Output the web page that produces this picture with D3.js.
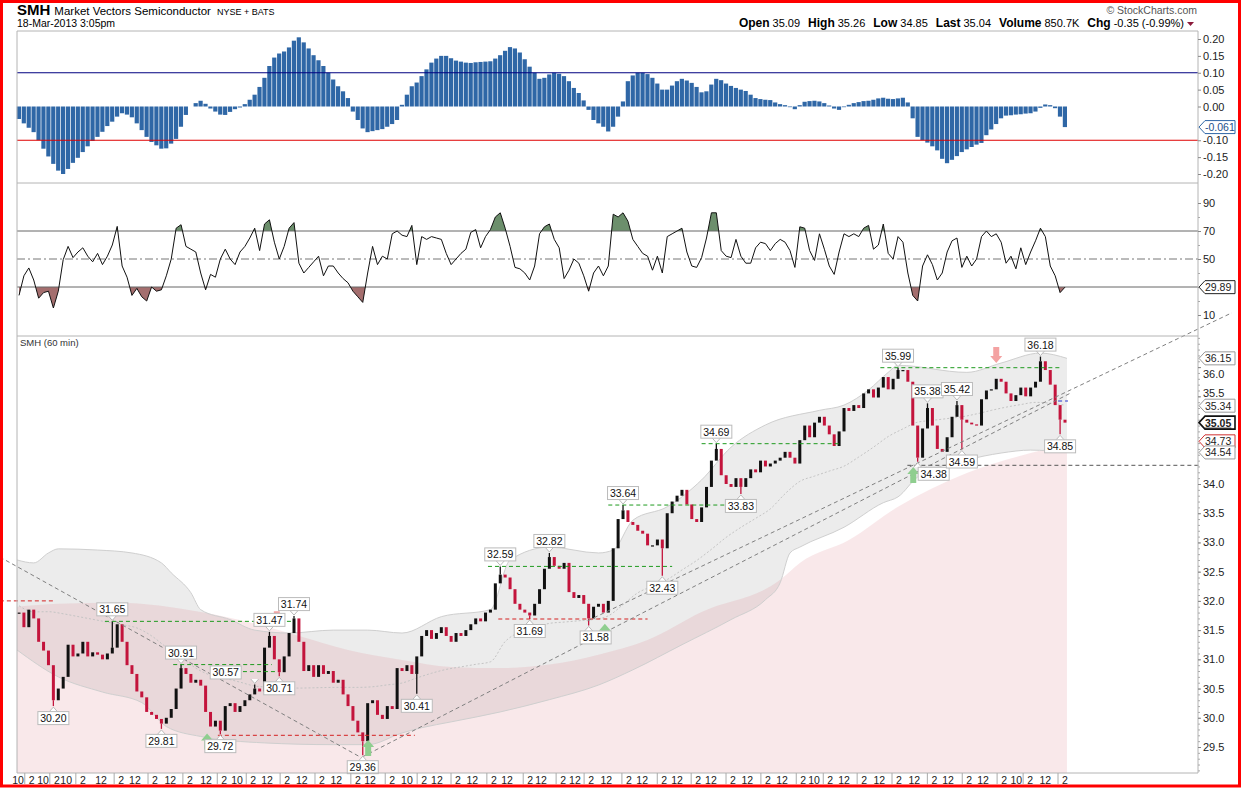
<!DOCTYPE html>
<meta charset="utf-8">
<style>
body { margin: 0; background: #fff; }
svg { font-family: "Liberation Sans", Arial, sans-serif; }
.tick text { font-size: 11px; fill: #222; }
.frame { fill: none; stroke: #b4b4b4; }
.lbl text { font-size: 10.5px; fill: #111; }
</style>
<svg width="1243" height="788"></svg>
<script src="https://d3js.org/d3.v7.min.js"></script>
<script>

// hourly closes, one per bar (60 min)
var closes = [
  31.80,31.55,31.85,31.70,31.30,31.15,30.90,30.30,30.50,30.70,
  31.25,31.05,31.10,31.30,31.05,31.12,31.08,31.00,31.10,31.20,
  31.60,31.30,30.90,30.75,30.45,30.35,30.10,30.05,29.98,29.90,
  30.00,30.15,30.50,30.85,30.75,30.60,30.65,30.55,30.10,29.85,
  29.95,29.78,30.20,30.25,30.10,30.20,30.30,30.40,30.50,30.45,
  31.20,31.40,31.00,30.78,31.05,31.45,31.70,31.30,30.80,30.90,
  30.70,30.90,30.75,30.80,30.60,30.65,30.40,30.20,29.95,29.75,
  29.60,30.25,30.30,30.05,29.98,30.20,30.15,30.85,30.80,30.90,
  30.75,31.05,31.40,31.50,31.35,31.45,31.55,31.40,31.30,31.45,
  31.40,31.50,31.60,31.70,31.65,31.80,31.85,32.30,32.45,32.40,
  32.20,31.95,31.85,31.80,31.75,31.95,32.20,32.55,32.75,32.60,
  32.55,32.65,32.15,32.05,32.10,31.95,31.70,31.90,31.95,31.80,
  32.00,32.90,33.40,33.55,33.35,33.30,33.20,33.15,32.95,32.95,
  33.05,32.90,33.50,33.70,33.80,33.90,33.65,33.40,33.35,33.60,
  33.95,34.40,34.60,34.15,34.00,33.95,34.10,33.95,34.10,34.25,
  34.20,34.40,34.30,34.35,34.40,34.45,34.55,34.45,34.35,34.75,
  35.00,34.80,35.05,35.15,35.00,34.85,34.65,34.90,35.30,35.25,
  35.35,35.30,35.55,35.62,35.48,35.65,35.83,35.62,35.80,35.95,
  35.95,35.75,35.00,34.45,34.95,35.30,35.00,34.60,34.55,34.80,
  35.15,35.35,35.10,35.05,35.02,35.00,35.45,35.60,35.62,35.80,
  35.75,35.55,35.42,35.52,35.65,35.50,35.65,35.75,36.10,35.95,
  35.70,35.35,35.10,35.05
];

var macdHist = [
  -0.037,-0.05,-0.063,-0.076,-0.10,-0.125,-0.148,-0.17,-0.19,-0.20,
  -0.185,-0.167,-0.152,-0.135,-0.118,-0.102,-0.09,-0.075,-0.058,-0.045,
  -0.03,-0.02,-0.024,-0.032,-0.05,-0.07,-0.09,-0.105,-0.115,-0.125,
  -0.124,-0.11,-0.096,-0.06,-0.025,0,0.01,0.017,0.008,-0.006,
  -0.015,-0.024,-0.025,-0.016,-0.008,-0.003,0.007,0.02,0.035,0.058,
  0.085,0.12,0.145,0.157,0.163,0.175,0.195,0.205,0.19,0.172,
  0.152,0.137,0.12,0.10,0.08,0.06,0.045,0.025,-0.015,-0.04,
  -0.065,-0.076,-0.073,-0.07,-0.067,-0.06,-0.052,-0.04,0.005,0.035,
  0.06,0.071,0.09,0.11,0.13,0.142,0.15,0.15,0.143,0.136,
  0.133,0.13,0.129,0.131,0.132,0.133,0.134,0.142,0.152,0.165,
  0.176,0.172,0.16,0.14,0.118,0.10,0.082,0.085,0.095,0.10,
  0.097,0.09,0.075,0.055,0.04,0.018,-0.01,-0.04,-0.05,-0.06,
  -0.074,-0.06,-0.03,0.015,0.075,0.092,0.10,0.10,0.096,0.085,
  0.068,0.05,0.05,0.062,0.075,0.082,0.077,0.07,0.058,0.042,
  0.045,0.065,0.082,0.078,0.068,0.061,0.055,0.05,0.046,0.035,
  0.025,0.022,0.02,0.019,0.012,0.007,0.004,-0.002,-0.008,0.004,
  0.014,0.016,0.017,0.015,0.01,0.003,-0.006,-0.01,-0.002,0.005,
  0.01,0.013,0.016,0.017,0.02,0.024,0.026,0.023,0.022,0.024,
  0.026,0.012,-0.035,-0.09,-0.10,-0.107,-0.118,-0.13,-0.155,-0.168,
  -0.158,-0.147,-0.135,-0.127,-0.12,-0.113,-0.108,-0.085,-0.068,-0.052,
  -0.035,-0.027,-0.026,-0.024,-0.023,-0.021,-0.02,-0.015,-0.004,0.006,
  0.004,-0.005,-0.03,-0.061
];

var rsi = [
  24,38,43.6,35,22,26,27,15,27,49.5,
  59,51,55,58,52,48,54,46,52,60,
  73.3,45,37,24,29,23,20,30,27,28,
  38,50,72,74.5,59,57,55,40,28,39,
  37,50,57,50,46,55,59,65,72,56,
  75,78,62,50,59,72,76,47,40,44,
  48,52,38,45,45,40,36,33,27,23,
  19,40,59,46,52,50,68,70,67,66,
  74,46,66,64,66,65,64,54,46,50,
  54,57,69,71,58,66,71,80,83,72,
  59,44,43,40,35,45,68,73,75,64,
  58,36,42,50,47,38,27,40,45,38,
  45,82,80,83,77,64,59,54,52,42,
  52,40,66,68,70,72,55,45,44,51,
  65,83,83,56,52,51,64,52,47,47,
  58,62,61,56,61,64,62,56,44,73,
  72,56,49,68,57,45,39,55,68,66,
  68,66,72,74,57,60,75,54,50,66,
  62,40,24,20,45,53,46,35,40,55,
  63,65,44,52,45,50,66,70,66,68,
  62,47,52,43,58,46,55,63,72,66,
  45,38,26,29.89
];

// bollinger bands, sampled at bar positions
var bbUpIdx = [-0.4,3,6,8,16,23,29,31,35,37,43,48,55,64,71,78,86,96,100,108,118,121,125,132,139,145,152,163,168,173,177,179,193,200,208,213.4];
var bbUpper = [32.70,32.65,32.82,32.89,32.87,32.82,32.65,32.48,32.14,31.85,31.68,31.50,31.45,31.50,31.50,31.45,31.73,31.85,32.70,32.92,32.82,32.87,33.38,33.61,34.07,34.63,35.01,35.26,35.35,35.61,35.91,36.03,35.91,36.07,36.24,36.15];
var bbLoIdx = [-0.4,8,17,25,30,37,50,64,71,78,82,88,98,108,118,125,135,145,152,155,157,159,168,176,179,183,193,200,206,213.4];
var bbLower = [31.16,30.70,30.44,30.26,29.85,29.68,29.57,29.54,29.54,29.74,29.83,29.93,30.10,30.31,30.56,30.82,31.25,31.68,32.02,32.31,32.82,32.92,33.26,33.68,33.78,34.12,34.41,34.53,34.58,34.54];

// long moving average (pink zone)
var maIdx = [-0.4,8,20,37,49,57,67,78,88,98,108,118,128,139,155,159,169,179,193,206,213.4];
var maLine = [31.90,31.95,31.97,31.81,31.59,31.40,31.16,30.99,30.87,30.85,30.91,31.08,31.33,31.81,32.36,32.65,33.04,33.61,34.19,34.53,34.68];

// labelled swing highs / lows
var labelBars = [7,19,29,33,41,48,51,53,56,70,81,98,104,108,116,123,131,142,147,179,183,185,191,192,208,212];
var labelVals = [30.20,31.65,29.81,30.91,29.72,30.57,31.47,30.71,31.74,29.36,30.41,32.59,31.69,32.82,31.58,33.64,32.43,34.69,33.83,35.99,34.38,35.38,35.42,34.59,36.18,34.85];
var labelSide = ["L","H","L","H","L","H","H","L","H","L","L","H","L","H","L","H","L","H","L","H","L","H","H","L","H","L"];

// annotation arrows
var arrowBars = [38.3,71.1,119.3,182.1,52.5,199];
var arrowVals = [29.73,29.62,31.61,34.29,31.55,36.07];
var arrowDir = ["up","up","up","up","down","down"];

// horizontal level lines
var levelFrom = [17.5,31.4,45.6,95.5,120,139,175.4,-3.9,40.5,97.6,180.9,211.6];
var levelTo = [55.8,51.5,52.7,133,145.4,167,212.4,7.3,80.6,128,240.5,213.6];
var levelVal = [31.65,30.91,30.79,32.59,33.64,34.69,35.99,32.00,29.70,31.69,34.32,35.42];
var levelKind = ["res","res","res","res","res","res","res","sup","sup","sup","flat","blue"];

// trend lines
var trendBar1 = [-3.9,115.8,69.9];
var trendVal1 = [32.75,31.66,29.33];
var trendBar2 = [73.1,247,214];
var trendVal2 = [29.16,36.93,35.55];

// right-edge value tags
var priceTags = [36.15,35.34,35.05,34.73,34.54];
var macdLast = -0.061;
var rsiLast = 29.89;

// tick labels (those hidden under the value tags are left out)
var priceTicks = [29.5,30.0,30.5,31.0,31.5,32.0,32.5,33.0,33.5,34.0,35.5,36.0];
var macdTicks = [0.20,0.15,0.10,0.05,0.00,-0.10,-0.15,-0.20];
var rsiTicks = [90,70,50,10];

var xTickBars = [-0.2,2.6,4.9,7.7,9.6,13.0,16.7,20.8,23.6,27.7,30.8,34.8,38.1,41.8,44.4,47.7,50.5,54.6,57.6,61.7,64.6,69.0,71.5,76.0,79.0,82.5,85.1,89.4,92.3,96.7,99.4,104.1,106.3,110.8,113.2,116.5,119.6,124.2,126.9,131.4,134.0,138.3,140.9,145.4,148.3,152.5,155.4,159.7,161.9,165.2,168.0,172.1,175.2,179.2,182.3,186.4,189.2,193.5,196.3,200.6,203.1,205.9,209.0,213.0];
var xTickText = ["10","2","10","2","10","2","12","2","12","2","12","2","12","2","10","2","12","2","12","2","12","2","12","2","10","2","12","2","12","2","12","2","12","2","12","2","12","2","12","2","12","2","12","2","12","2","12","2","10","2","12","2","12","2","12","2","12","2","12","2","10","2","12","2"];

var quoteNames = ["Open","High","Low","Last","Volume","Chg"];
var quoteVals = ["35.09","35.26","34.85","35.04","850.7K","-0.35 (-0.99%)"];

var svg = d3.select("svg");
var L = 17, R = 1198;

var x = d3.scaleLinear().domain([0, 213]).range([19, 1065]);
var yM = d3.scaleLinear().domain([-0.2, 0.2]).range([174, 39]);
var yR = d3.scaleLinear().domain([10, 90]).range([315, 203]);
var yP = d3.scaleLinear().domain([29.5, 34]).range([747, 484]);

// ---------- header ----------
var symT = svg.append("text").attr("x", 17).attr("y", 15).style("font-size", "15px").style("font-weight", "bold").text("SMH");
var nameX = 17 + symT.node().getComputedTextLength() + 4;
var nameT = svg.append("text").attr("x", nameX).attr("y", 15).style("font-size", "11.5px").text("Market Vectors Semiconductor");
var nameW = nameT.node().getComputedTextLength();
svg.append("text").attr("x", nameX + nameW + 6).attr("y", 15).style("font-size", "9px").text("NYSE + BATS");
svg.append("text").attr("x", 17).attr("y", 27).style("font-size", "10.5px").text("18-Mar-2013 3:05pm");
svg.append("text").attr("x", 1197).attr("y", 14).attr("text-anchor", "end")
  .style("font-size", "10.5px").style("fill", "#555").text("\u00a9 StockCharts.com");

var head = svg.append("text").attr("x", 1184).attr("y", 27).attr("text-anchor", "end").style("font-size", "11px");
quoteNames.forEach(function(n, i) {
  head.append("tspan").attr("dx", i ? 8 : 0).style("font-weight", "bold").style("font-size", "12px").text(n);
  head.append("tspan").attr("dx", 3).text(quoteVals[i]);
});
svg.append("path").attr("d", "M1187,22h7l-3.5,4z").attr("fill", "#8b1a3a");

// ---------- MACD histogram panel ----------
var gM = svg.append("g");
gM.selectAll("rect").data(macdHist).enter().append("rect")
  .attr("x", function(d, i) { return x(i) - 2.2; })
  .attr("width", 4.2)
  .attr("y", function(d) { return Math.min(yM(d), yM(0)); })
  .attr("height", function(d) { return Math.abs(yM(d) - yM(0)); })
  .attr("fill", "#2f67a6");
gM.append("line").attr("x1", L).attr("x2", R).attr("y1", yM(0.10)).attr("y2", yM(0.10)).attr("stroke", "#000080");
gM.append("line").attr("x1", L).attr("x2", R).attr("y1", yM(-0.10)).attr("y2", yM(-0.10)).attr("stroke", "#e00000");

// ---------- RSI panel ----------
var gR = svg.append("g");
var defs = svg.append("defs");
defs.append("clipPath").attr("id", "ob").append("rect").attr("x", L).attr("y", 183).attr("width", R - L).attr("height", yR(70) - 183);
defs.append("clipPath").attr("id", "os").append("rect").attr("x", L).attr("y", yR(30)).attr("width", R - L).attr("height", 336 - yR(30));

gR.append("path").datum(rsi).attr("clip-path", "url(#ob)").attr("fill", "#6c8f6c")
  .attr("d", d3.area().x(function(d, i) { return x(i); }).y0(yR(70)).y1(function(d) { return yR(d); }));
gR.append("path").datum(rsi).attr("clip-path", "url(#os)").attr("fill", "#a46e6e")
  .attr("d", d3.area().x(function(d, i) { return x(i); }).y0(yR(30)).y1(function(d) { return yR(d); }));
[70, 30].forEach(function(v) {
  gR.append("line").attr("x1", L).attr("x2", R).attr("y1", yR(v)).attr("y2", yR(v)).attr("stroke", "#666");
});
gR.append("line").attr("x1", L).attr("x2", R).attr("y1", yR(50)).attr("y2", yR(50))
  .attr("stroke", "#777").attr("stroke-dasharray", "8,3,2,3");
gR.append("path").datum(rsi).attr("fill", "none").attr("stroke", "#111").attr("stroke-width", 1)
  .attr("d", d3.line().x(function(d, i) { return x(i); }).y(function(d) { return yR(d); }));

// ---------- price panel ----------
var gP = svg.append("g");
gP.append("text").attr("x", 20).attr("y", 346).style("font-size", "9.5px").style("fill", "#333").text("SMH (60 min)");

var upPts = bbUpIdx.map(function(b, i) { return [b, bbUpper[i]]; });
var loPts = bbLoIdx.map(function(b, i) { return [b, bbLower[i]]; });
var upF = d3.line().curve(d3.curveMonotoneX).x(function(d) { return x(d[0]); }).y(function(d) { return yP(d[1]); });

// band fill: upper path forward, lower path back
var bandPath = upF(upPts) + "L" + upF(loPts.slice().reverse()).slice(1) + "Z";
gP.append("path").attr("d", bandPath).attr("fill", "#ececec");

var maPts = maIdx.map(function(b, i) { return [b, maLine[i]]; });
gP.append("path").datum(maPts).attr("fill", "rgba(222,120,130,0.17)")
  .attr("d", d3.area().curve(d3.curveMonotoneX).x(function(d) { return x(d[0]); })
    .y0(773).y1(function(d) { return yP(d[1]); }));

gP.append("path").attr("d", upF(upPts)).attr("fill", "none").attr("stroke", "#cfcfcf");
gP.append("path").attr("d", upF(loPts)).attr("fill", "none").attr("stroke", "#cfcfcf");

// middle band
var midPts = d3.range(0, 214, 3).concat([213]).map(function(i) {
  var u = d3.scaleLinear().domain(bbUpIdx).range(bbUpper)(i);
  var l = d3.scaleLinear().domain(bbLoIdx).range(bbLower)(i);
  return [i, (u + l) / 2];
});
gP.append("path").attr("d", upF(midPts)).attr("fill", "none").attr("stroke", "#c4c4c4").attr("stroke-dasharray", "2,2");

// candles (open = previous close)
var gC = gP.append("g");
closes.forEach(function(c, i) {
  var o = i ? closes[i - 1] : c;
  var top = yP(Math.max(o, c)), bot = yP(Math.min(o, c));
  gC.append("rect").attr("x", x(i) - 1.5).attr("width", 3)
    .attr("y", top).attr("height", Math.max(1.2, bot - top))
    .attr("fill", c >= o ? "#111" : "#c3143c");
});
labelBars.forEach(function(b, i) {
  var c = closes[b], o = b ? closes[b - 1] : c;
  var from = labelSide[i] === "H" ? Math.max(o, c) : Math.min(o, c);
  gC.append("line").attr("x1", x(b)).attr("x2", x(b)).attr("y1", yP(from)).attr("y2", yP(labelVals[i]))
    .attr("stroke", c >= o ? "#111" : "#c3143c").attr("stroke-width", 1.3);
});

// level lines
var levelColor = { res: "#1e9a1e", sup: "#d42020", flat: "#555", blue: "#2233cc" };
levelVal.forEach(function(v, i) {
  gP.append("line").attr("x1", x(levelFrom[i])).attr("x2", x(levelTo[i]))
    .attr("y1", yP(v)).attr("y2", yP(v))
    .attr("stroke", levelColor[levelKind[i]]).attr("stroke-dasharray", "4,3");
});

// trend lines
trendBar1.forEach(function(b, i) {
  gP.append("line").attr("x1", x(b)).attr("y1", yP(trendVal1[i]))
    .attr("x2", x(trendBar2[i])).attr("y2", yP(trendVal2[i]))
    .attr("stroke", "#808080").attr("stroke-dasharray", "4,3");
});

// arrows
arrowBars.forEach(function(b, i) {
  var px = x(b), py = yP(arrowVals[i]), s = arrowDir[i] === "up" ? 1 : -1;
  gP.append("path")
    .attr("d", "M" + px + "," + py + "l6," + 7 * s + "h-3v" + 9 * s + "h-6v" + -9 * s + "h-3z")
    .attr("fill", s > 0 ? "#8fce8f" : "#f4a2a2");
});

// value labels
var labelShift = { "30.57": -29, "34.38": 16, "31.58": 7 };
var gL = gP.append("g").attr("class", "lbl");
labelBars.forEach(function(b, i) {
  var v = labelVals[i], px = x(b), py = yP(v), hi = labelSide[i] === "H";
  var cx = px + (labelShift[v.toFixed(2)] || 0);
  var cy = hi ? py - 12 : py + 12;
  var edge = hi ? cy + 6.5 : cy - 6.5;
  gL.append("path").attr("d", "M" + (px - 4) + "," + edge + "L" + px + "," + (hi ? py - 1 : py + 1) + "L" + (px + 4) + "," + edge)
    .attr("fill", "#fff").attr("stroke", "#bbb");
  gL.append("rect").attr("x", cx - 15.5).attr("y", cy - 6.5).attr("width", 31).attr("height", 13)
    .attr("fill", "#fff").attr("stroke", "#bbb");
  gL.append("text").attr("x", cx).attr("y", cy + 4).attr("text-anchor", "middle").text(v.toFixed(2));
});

// ---------- frames & axes ----------
[31, 183, 336, 773].forEach(function(yy) {
  svg.append("line").attr("class", "frame").attr("x1", L).attr("x2", R).attr("y1", yy).attr("y2", yy);
});
svg.append("line").attr("class", "frame").attr("x1", L).attr("x2", L).attr("y1", 31).attr("y2", 773);
svg.append("line").attr("class", "frame").attr("x1", R).attr("x2", R).attr("y1", 31).attr("y2", 773);

function rightAxis(scale, ticks, fmt, minor) {
  var g = svg.append("g").attr("transform", "translate(" + R + ",0)");
  if (minor) {
    g.append("g").call(d3.axisRight(scale).tickValues(minor).tickSize(2).tickFormat(""))
      .call(function(s) { s.select(".domain").remove(); s.selectAll("line").attr("stroke", "#aaa"); });
  }
  var ax = g.append("g").call(d3.axisRight(scale).tickValues(ticks).tickSize(3).tickPadding(2).tickFormat(fmt));
  ax.select(".domain").remove();
  ax.selectAll("line").attr("stroke", "#888");
  ax.selectAll("text").attr("fill", "#222");
  return ax;
}
rightAxis(yM, macdTicks, function(d) { return d.toFixed(2); });
rightAxis(yR, rsiTicks, function(d) { return String(d); }, d3.range(10, 100, 10));
var pAx = rightAxis(yP, priceTicks, function(d) { return d.toFixed(1); }, d3.range(291, 366, 1).map(function(d) { return d / 10; }));
// nudge the two labels that sit next to value tags, as the original does
pAx.selectAll(".tick text").attr("dy", function(d) { return d === 36 ? "0.95em" : d === 35.5 ? "0.02em" : "0.32em"; });

function tag(yy, txt, stroke, bold) {
  var g = svg.append("g");
  g.append("path").attr("d", "M" + (R + 1) + "," + yy + "l6,-6.5h30v13h-30z")
    .attr("fill", "#fff").attr("stroke", stroke).attr("stroke-width", bold ? 1.6 : 1);
  g.append("text").attr("x", R + 7).attr("y", yy + 4).style("font-size", "10.5px")
    .style("font-weight", bold ? "bold" : "normal")
    .style("text-decoration", bold ? "underline" : "none")
    .attr("fill", stroke === "#2f67a6" ? "#1d4f8a" : "#222").text(txt);
}
tag(yM(macdLast), macdLast.toFixed(3), "#2f67a6", false);
tag(yR(rsiLast), rsiLast.toFixed(2), "#222", false);
var tagStroke = ["#999", "#999", "#111", "#d03030", "#999"];
priceTags.forEach(function(v, i) {
  tag(yP(v), v.toFixed(2), tagStroke[i], i === 2);
});

// x axis
var gX = svg.append("g");
xTickBars.forEach(function(b, i) {
  var px = x(b);
  gX.append("text").attr("x", px).attr("y", 784).attr("text-anchor", "middle")
    .style("font-size", "10.5px").attr("fill", "#222").text(xTickText[i]);
  if (xTickText[i] === "2") {
    gX.append("line").attr("x1", px - 7).attr("x2", px - 7).attr("y1", 773).attr("y2", 784).attr("stroke", "#aaa");
  }
});

// outer frame
svg.append("rect").attr("x", 1.5).attr("y", 1.5).attr("width", 1238).attr("height", 784.5)
  .attr("fill", "none").attr("stroke", "#ff0000").attr("stroke-width", 3);

</script>
